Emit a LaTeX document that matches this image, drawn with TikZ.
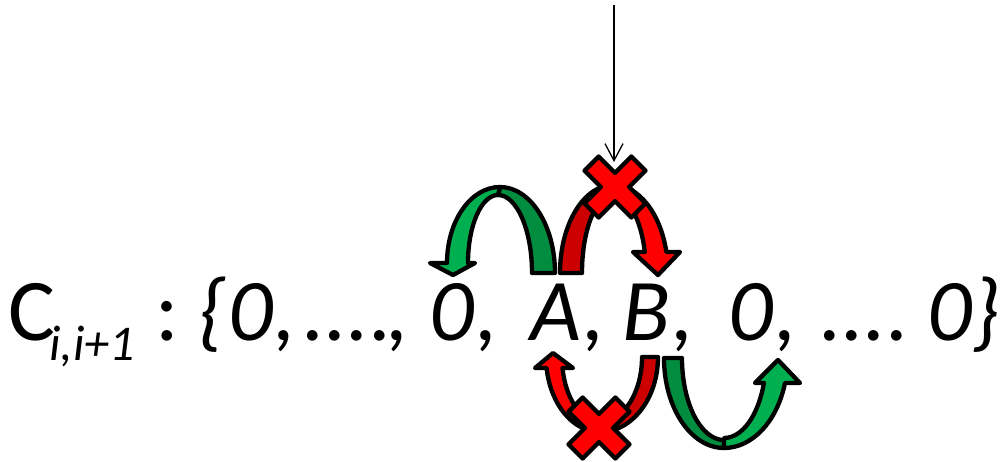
\documentclass[tikz,border=0pt]{standalone}
\usepackage{fontspec}
\setmainfont{Carlito}
\usetikzlibrary{arrows.meta}
\definecolor{lgreen}{HTML}{00B050}
\definecolor{dgreen}{HTML}{008D40}
\definecolor{lred}{HTML}{FF0000}
\definecolor{dred}{HTML}{CC0000}
\begin{document}
\begin{tikzpicture}[x=1pt,y=-1pt,
  band/.style={draw=black, line width=4.3pt, line join=round},
  main/.style={anchor=base, inner sep=0pt, font=\fontsize{88}{100}\selectfont\itshape},
  mainup/.style={anchor=base, inner sep=0pt, font=\fontsize{88}{100}\selectfont},
  subs/.style={anchor=base, inner sep=0pt, font=\fontsize{50}{60}\selectfont\itshape},
  xmark/.pic={\filldraw[band, fill=lred] (0,-14.1) -- (16.3,-30.5) -- (30.5,-16.3) -- (14.1,0) -- (30.5,16.3) -- (16.3,30.5) -- (0,14.1) -- (-16.3,30.5) -- (-30.5,16.3) -- (-14.1,0) -- (-30.5,-16.3) -- (-16.3,-30.5) -- cycle;}
]
\useasboundingbox (0,0) rectangle (1007,461);
% text
\node[mainup] (c) at (32,340) {C};
\node[subs] (sub) at (92,360) {i,i+1};
\node[mainup] (colon) at (167,340) {:};
\node[main] (lb) at (212,340) {\{};
\node[main] (z1) at (251,340) {0};
\node[main] (k1) at (285,340) {,};
\node[main] (d1) at (348,340) {....};
\node[main] (k2) at (398,340) {,};
\node[main] (z2) at (452,340) {0};
\node[main] (k3) at (487,340) {,};
\node[main] (a) at (556,340) {A};
\node[main] (k4) at (594,340) {,};
\node[main] (b) at (646,340) {B};
\node[main] (k5) at (683,340) {,};
\node[main] (z3) at (751,340) {0};
\node[main] (k6) at (786,340) {,};
\node[main] (d2) at (865,340) {....};
\node[main] (z4) at (950,340) {0};
\node[main] (rb) at (986,340) {\}};
% top green arrow
\filldraw[band, fill=dgreen] (500,187) arc[start angle=270,end angle=360,x radius=55,y radius=86] -- (532,273) arc[start angle=0,end angle=-90,x radius=34,y radius=78] -- cycle;
\filldraw[band, fill=lgreen] (447,263) arc[start angle=180,end angle=270,x radius=53,y radius=76] -- (498,195) arc[start angle=270,end angle=180,x radius=30,y radius=68] -- (475,263) -- (453,275) -- (430,263) -- cycle;
% top red arrow
\filldraw[band, fill=dred] (560,273) arc[start angle=180,end angle=270,x radius=53,y radius=88] -- (613,195) arc[start angle=270,end angle=180,x radius=31,y radius=78] -- cycle;
\filldraw[band, fill=lred] (613,185) arc[start angle=-90,end angle=-13.8,x radius=55,y radius=88] -- (680,252) -- (658,275) -- (633,252) -- (644.8,252) arc[start angle=-15.6,end angle=-90,x radius=33,y radius=78] -- cycle;
% bottom red arrow
\filldraw[band, fill=dred] (658,357) arc[start angle=0,end angle=90,x radius=58,y radius=75] -- (600,422) arc[start angle=90,end angle=0,x radius=42,y radius=65] -- cycle;
\filldraw[band, fill=lred] (600,432) arc[start angle=90,end angle=171.57,x radius=54,y radius=75] -- (535,368) -- (553,353) -- (573,368) -- (562.5,368) arc[start angle=170.26,end angle=90,x radius=38,y radius=65] -- cycle;
% bottom green arrow
\filldraw[band, fill=dgreen] (664,358) arc[start angle=180,end angle=90,x radius=60,y radius=90] -- (724,440) arc[start angle=90,end angle=180,x radius=42,y radius=82] -- cycle;
\filldraw[band, fill=lgreen] (724,448) arc[start angle=90,end angle=16.13,x radius=63.5,y radius=90] -- (800,383) -- (778,360) -- (755,383) -- (763.9,383) arc[start angle=18.21,end angle=90,x radius=42,y radius=80] -- cycle;
% crosses
\pic at (615,187) {xmark};
\pic at (599,428) {xmark};
% thin arrow
\coordinate (src) at (614,5);
\coordinate (tip) at (614,162);
\draw[line width=1.3pt, -{Straight Barb[length=17pt,width=18pt]}] (src) -- (tip);
\end{tikzpicture}
\end{document}
